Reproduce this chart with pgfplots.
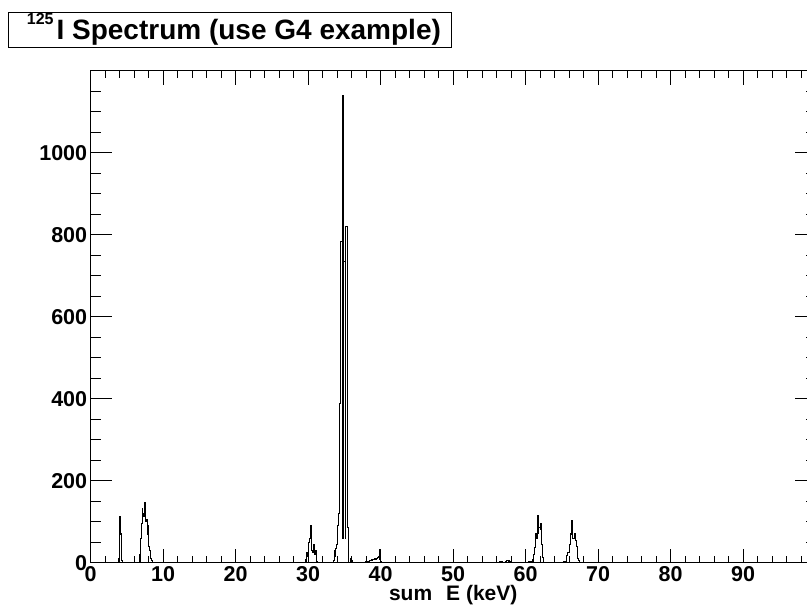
\documentclass[border=0pt]{standalone}
\usepackage{fontspec}
\setmainfont{Liberation Sans}
\usepackage{pgfplots}
\pgfplotsset{compat=1.18}
\pgfplotstableread{
x y
0 0
3.9 10
4.0 112
4.1 70
4.2 25
4.3 5
4.4 0
6.7 3
6.8 20
6.9 60
7.0 95
7.1 131
7.2 120
7.3 113
7.4 146
7.5 120
7.6 101
7.7 105
7.8 90
7.9 70
8.0 40
8.1 30
8.2 20
8.3 10
8.4 5
8.5 0
29.6 3
29.7 8
29.8 25
29.9 15
30.0 45
30.1 50
30.2 60
30.3 90
30.4 55
30.5 30
30.6 25
30.7 45
30.8 40
30.9 20
31.0 30
31.1 10
31.2 3
31.3 0
33.5 5
33.6 15
33.7 30
33.8 35
33.9 45
34.0 60
34.1 90
34.2 120
34.3 388
34.4 485
34.5 783
34.6 783
34.7 1140
34.8 60
34.9 734
35.0 734
35.1 60
35.2 820
35.3 820
35.4 86
35.5 0
35.8 10
35.9 8
36.0 5
36.1 0
37.9 2
38.2 4
38.5 6
38.8 7
39.1 9
39.4 10
39.6 12
39.7 15
39.8 33
39.9 8
40.0 3
40.1 0
56.4 2
56.8 0
57.2 3
57.4 5
57.7 2
58.0 0
60.4 2
60.8 3
61.0 8
61.1 20
61.2 37
61.3 50
61.4 70
61.5 60
61.6 115
61.7 72
61.8 86
61.9 86
62.0 80
62.1 96
62.2 45
62.3 13
62.4 3
62.5 0
65.2 2
65.4 4
65.6 17
65.8 25
66.0 35
66.1 45
66.2 70
66.3 102
66.4 62
66.5 60
66.6 58
66.7 70
66.8 68
66.9 55
67.0 40
67.1 25
67.2 10
67.3 5
67.4 0
100 0
}\spectrum
\pgfplotsset{roots/.style={
  at={(0pt,0pt)}, anchor=south west,
  width=725pt, height=491.7pt, scale only axis,
  xmin=0, xmax=100, ymin=0, ymax=1200,
  tick align=inside,
  tick style={black, line width=1pt},
  axis line style={line width=1pt},
  ticklabel style={font=\fontsize{21.5}{21.5}\selectfont\bfseries},
}}
\begin{document}
\begin{tikzpicture}[x=1pt,y=1pt]
\useasboundingbox (-90.7,-49.3) rectangle (716.3,562.7);
\begin{scope}
\clip (-90.7,-49.3) rectangle (716.3,562.7);
\begin{axis}[roots,
  xtick={0,10,...,100}, xticklabels={0,10,20,30,40,50,60,70,80,90,{}},
  ytick=\empty,
  minor x tick num=4,
  major tick length=14pt, minor tick length=7pt,
  xlabel={sum\hspace{14pt}E (keV)},
  xlabel style={font=\fontsize{21}{21}\selectfont\bfseries, at={(axis description cs:0.5,0)}, anchor=base, yshift=-38.3pt},
]
\addplot[const plot, black, line width=1.1pt] table {\spectrum};
\end{axis}
\begin{axis}[roots,
  xtick=\empty,
  ytick={0,200,...,1200}, yticklabels={0,200,400,600,800,1000,{}},
  minor y tick num=3,
  major tick length=21pt, minor tick length=10pt,
]
\end{axis}
\end{scope}
\draw[line width=1pt] (-82.4,515.4) rectangle (361,550);
\node[anchor=base west, inner sep=0, font=\fontsize{28}{28}\selectfont\bfseries] at (-64,523.4) {\raisebox{14.3pt}{\fontsize{16}{16}\selectfont 125}\hspace{3pt}I Spectrum (use G4 example)};
\end{tikzpicture}
\end{document}
